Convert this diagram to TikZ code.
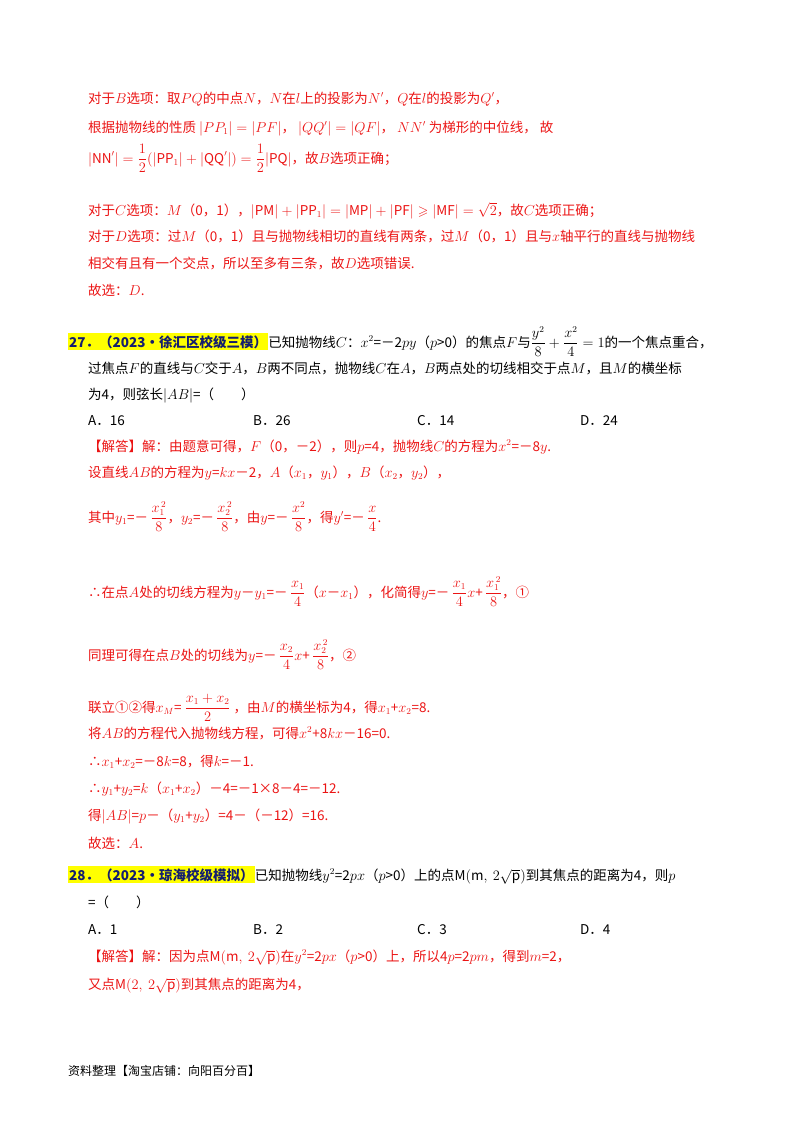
\documentclass[tikz,border=0pt]{standalone}
\usepackage{amsmath,amssymb}
\usepackage{fontspec}
\setmainfont{Noto Sans CJK SC}
\definecolor{myred}{RGB}{235,20,20}
\definecolor{myblue}{RGB}{20,30,110}
\definecolor{hl}{RGB}{255,255,0}
\begin{document}
\begin{tikzpicture}[x=1pt,y=-1pt,
  tx/.style={anchor=base west,inner sep=0pt,font=\fontsize{13.5}{16}\selectfont},
  rd/.style={tx,text=myred},
  hd/.style={anchor=base west,inner xsep=1pt,inner ysep=2pt,fill=hl,text=myblue,font=\fontsize{13.5}{16}\selectfont\bfseries},
  ft/.style={tx,font=\fontsize{12}{14}\selectfont}]
\useasboundingbox (0,0) rectangle (800,1132);
\node[rd] (l1) at (88,103) {对于$B$选项：取$PQ$的中点$N$，$N$在$l$上的投影为$N'$，$Q$在$l$的投影为$Q'$，};
\node[rd] (l2) at (88,132) {根据抛物线的性质 $|PP_1|=|PF|$，\ $|QQ'|=|QF|$，\ $NN'$ 为梯形的中位线，\ 故};
\node[rd] (l3) at (88,163) {$|\mathrm{NN}'|=\dfrac{1}{2}(|\mathrm{PP}_1|+|\mathrm{QQ}'|)=\dfrac12|\mathrm{PQ}|$，故$B$选项正确；};
\node[rd] (l4) at (88,215) {对于$C$选项：$M$（0，1），$|\mathrm{PM}|+|\mathrm{PP}_1|=|\mathrm{MP}|+|\mathrm{PF}|\geqslant|\mathrm{MF}|=\sqrt2$，故$C$选项正确；};
\node[rd] (l5) at (88,241) {对于$D$选项：过$M$（0，1）且与抛物线相切的直线有两条，过$M$（0，1）且与$x$轴平行的直线与抛物线};
\node[rd] (l6) at (88,268) {相交有且有一个交点，所以至多有三条，故$D$选项错误.};
\node[rd] (l7) at (88,295) {故选：$D$.};
\node[hd] (h27) at (68,347) {27．（2023•徐汇区校级三模）};
\node[tx] (q27a) at (h27.base east) [anchor=base west] {已知抛物线$C$：$x^2$=－2$py$（$p$>0）的焦点$F$与$\dfrac{y^2}{8}+\dfrac{x^2}{4}=1$的一个焦点重合，};
\node[tx] (q27b) at (88,373) {过焦点$F$的直线与$C$交于$A$，$B$两不同点，抛物线$C$在$A$，$B$两点处的切线相交于点$M$，且$M$的横坐标};
\node[tx] (q27c) at (88,399) {为4，则弦长$|AB|$=（\quad\quad）};
\node[tx] (o1) at (88,425) {A．16};
\node[tx] (o2) at (253,425) {B．26};
\node[tx] (o3) at (417,425) {C．14};
\node[tx] (o4) at (580,425) {D．24};
\node[rd] (s1) at (88,451) {【解答】解：由题意可得，$F$（0，－2），则$p$=4，抛物线$C$的方程为$x^2$=－8$y$.};
\node[rd] (s2) at (88,477) {设直线$AB$的方程为$y$=$kx$－2，$A$（$x_1$，$y_1$），$B$（$x_2$，$y_2$），};
\node[rd] (s3) at (88,522) {其中$y_1$=－\,$\dfrac{x_1^{\,2}}{8}$，$y_2$=－\,$\dfrac{x_2^{\,2}}{8}$，由$y$=－\,$\dfrac{x^2}{8}$，得$y'$=－\,$\dfrac{x}{4}$.};
\node[rd] (s4) at (88,597) {∴在点$A$处的切线方程为$y$－$y_1$=－\,$\dfrac{x_1}{4}$（$x$－$x_1$），化简得$y$=－\,$\dfrac{x_1}{4}x$+\,$\dfrac{x_1^{\,2}}{8}$，①};
\node[rd] (s5) at (88,660) {同理可得在点$B$处的切线为$y$=－\,$\dfrac{x_2}{4}x$+\,$\dfrac{x_2^{\,2}}{8}$，②};
\node[rd] (s6) at (88,712) {联立①②得$x_M$=\ $\dfrac{x_1+x_2}{2}$\ ，由$M$的横坐标为4，得$x_1$+$x_2$=8.};
\node[rd] (s7) at (88,738) {将$AB$的方程代入抛物线方程，可得$x^2$+8$kx$－16=0.};
\node[rd] (s8) at (88,766) {∴$x_1$+$x_2$=－8$k$=8，得$k$=－1.};
\node[rd] (s9) at (88,793) {∴$y_1$+$y_2$=$k$（$x_1$+$x_2$）－4=－1×8－4=－12.};
\node[rd] (s10) at (88,820) {得$|AB|$=$p$－（$y_1$+$y_2$）=4－（－12）=16.};
\node[rd] (s11) at (88,848) {故选：$A$.};
\node[hd] (h28) at (68,880) {28．（2023•琼海校级模拟）};
\node[tx] (q28a) at (h28.base east) [anchor=base west] {已知抛物线$y^2$=2$px$（$p$>0）上的点$\mathrm{M}(\mathrm{m},\ 2\sqrt{\mathrm{p}})$到其焦点的距离为4，则$p$};
\node[tx] (q28b) at (88,907) {=（\quad\quad）};
\node[tx] (p1) at (88,934) {A．1};
\node[tx] (p2) at (253,934) {B．2};
\node[tx] (p3) at (417,934) {C．3};
\node[tx] (p4) at (580,934) {D．4};
\node[rd] (t1) at (88,961) {【解答】解：因为点$\mathrm{M}(\mathrm{m},\ 2\sqrt{\mathrm{p}})$在$y^2$=2$px$（$p$>0）上，所以4$p$=2$pm$，得到$m$=2，};
\node[rd] (t2) at (88,989) {又点$\mathrm{M}(2,\ 2\sqrt{\mathrm{p}})$到其焦点的距离为4，};
\node[ft] (foot) at (68,1075) {资料整理【淘宝店铺：向阳百分百】};
\end{tikzpicture}
\end{document}
